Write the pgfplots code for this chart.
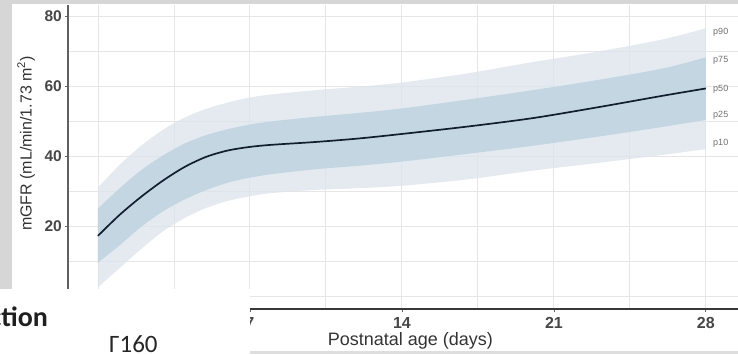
\documentclass[border=0pt]{standalone}
\usepackage{pgfplots}
\pgfplotsset{compat=1.18}
\usepackage{pgfplotstable}
\usepgfplotslibrary{fillbetween}
\usepackage{fontspec}
\setmainfont{Liberation Sans}
\newfontfamily\carlito{Carlito}
\definecolor{outerband}{HTML}{DDE5EC}
\definecolor{innerband}{HTML}{BED1E1}
\definecolor{medline}{HTML}{101E2E}
\definecolor{gridgray}{HTML}{E6E6E6}
\definecolor{framegray}{HTML}{D6D6D6}
\definecolor{ticktext}{HTML}{474747}
\definecolor{plabel}{HTML}{707070}

\pgfplotstableread{
day p10 p25 p50 p75 p90
0  2.5  9.5  17.2 25.0 31.0
1  8.0  14.5 23.2 30.8 37.5
2  13.5 19.8 28.4 36.0 43.0
3  18.5 24.2 33.0 40.2 47.5
4  22.3 27.6 36.9 43.6 51.0
5  25.2 30.3 39.8 46.0 53.5
6  27.2 32.4 41.6 47.7 55.3
7  28.5 33.8 42.6 49.0 56.7
8  29.4 34.8 43.2 49.9 57.6
10 30.3 36.2 44.0 51.2 58.8
12 30.8 37.2 45.0 52.3 59.8
14 31.5 38.4 46.3 53.6 61.0
17 33.3 40.6 48.4 56.1 63.6
20 35.8 42.9 50.8 58.8 66.8
23 38.0 45.5 53.9 61.7 69.8
26 40.3 48.3 57.2 65.0 73.3
28 42.0 50.3 59.3 68.2 76.5
}\gfrdata

\begin{document}
\begin{tikzpicture}
\fill[framegray] (0pt,350pt) rectangle (738pt,354pt);
\fill[framegray] (0pt,0pt) rectangle (12pt,354pt);
\fill[framegray!80] (250pt,0pt) rectangle (738pt,3pt);
\begin{axis}[
  at={(68pt,45pt)}, anchor=south west,
  scale only axis, width=670pt, height=304pt,
  xmin=-1.38, xmax=29.48, ymin=-3.71, ymax=83.14,
  axis x line=bottom, axis y line=left,
  x axis line style={-, draw=black!78, line width=1.3pt},
  y axis line style={-, draw=black!62, line width=1.3pt},
  xtick={0,7,14,21,28}, ytick={0,20,40,60,80},
  minor xtick={3.5,10.5,17.5,24.5},
  minor ytick={10,30,50,70},
  grid=both,
  major grid style={draw=gridgray, line width=0.9pt},
  minor grid style={draw=gridgray, line width=0.9pt},
  minor tick length=0pt,
  major tick length=3pt,
  tick align=outside,
  tick style={draw=black!60, line width=0.8pt},
  clip=false,
  fill between/on layer=main,
  /pgf/number format/assume math mode=true,
  xticklabel style={font=\bfseries\fontsize{16}{16}\selectfont, text=ticktext, anchor=north, inner sep=0pt, yshift=-5pt},
  yticklabel style={font=\bfseries\fontsize{15.5}{15.5}\selectfont, text=ticktext, anchor=east, inner sep=0pt, xshift=-3pt},
  xlabel={Postnatal age (days)},
  xlabel style={at={(axis description cs:0.511,-0.104)}, anchor=center, font=\fontsize{18}{18}\selectfont, text=black!80, inner sep=0pt},
  ylabel={mGFR (mL/min/1.73 m\textsuperscript{2})},
  ylabel style={at={(axis description cs:-0.0625,0.544)}, anchor=center, font=\fontsize{16}{16}\selectfont, text=black!80, inner sep=0pt},
]
\addplot[name path=p90, draw=none, smooth] table[x=day,y=p90]{\gfrdata};
\addplot[name path=p10, draw=none, smooth] table[x=day,y=p10]{\gfrdata};
\addplot[name path=p75, draw=none, smooth] table[x=day,y=p75]{\gfrdata};
\addplot[name path=p25, draw=none, smooth] table[x=day,y=p25]{\gfrdata};
\addplot[fill=outerband, fill opacity=0.8, draw=none] fill between[of=p90 and p10];
\addplot[fill=innerband, fill opacity=0.8, draw=none] fill between[of=p75 and p25];
\addplot[medline, line width=1.7pt, smooth] table[x=day,y=p50]{\gfrdata};
\node[anchor=west, font=\fontsize{9}{9}\selectfont, text=plabel, inner sep=0pt] at (axis cs:28.33,75.3) {p90};
\node[anchor=west, font=\fontsize{9}{9}\selectfont, text=plabel, inner sep=0pt] at (axis cs:28.33,67.4) {p75};
\node[anchor=west, font=\fontsize{9}{9}\selectfont, text=plabel, inner sep=0pt] at (axis cs:28.33,59.2) {p50};
\node[anchor=west, font=\fontsize{9}{9}\selectfont, text=plabel, inner sep=0pt] at (axis cs:28.33,51.5) {p25};
\node[anchor=west, font=\fontsize{9}{9}\selectfont, text=plabel, inner sep=0pt] at (axis cs:28.33,43.6) {p10};
\end{axis}
\fill[white] (0pt,0pt) rectangle (250pt,65pt);
\node[anchor=base west, inner sep=0pt, font=\carlito\bfseries\fontsize{28}{30}\selectfont, text=black!88] at (-10.5pt,27.3pt) {ction};
\node[anchor=base west, inner sep=0pt, font=\carlito\fontsize{25}{27}\selectfont, text=black!85] at (109pt,1.5pt) {Γ160};
\pgfresetboundingbox
\path[use as bounding box] (0pt,0pt) rectangle (738pt,354pt);
\end{tikzpicture}
\end{document}
